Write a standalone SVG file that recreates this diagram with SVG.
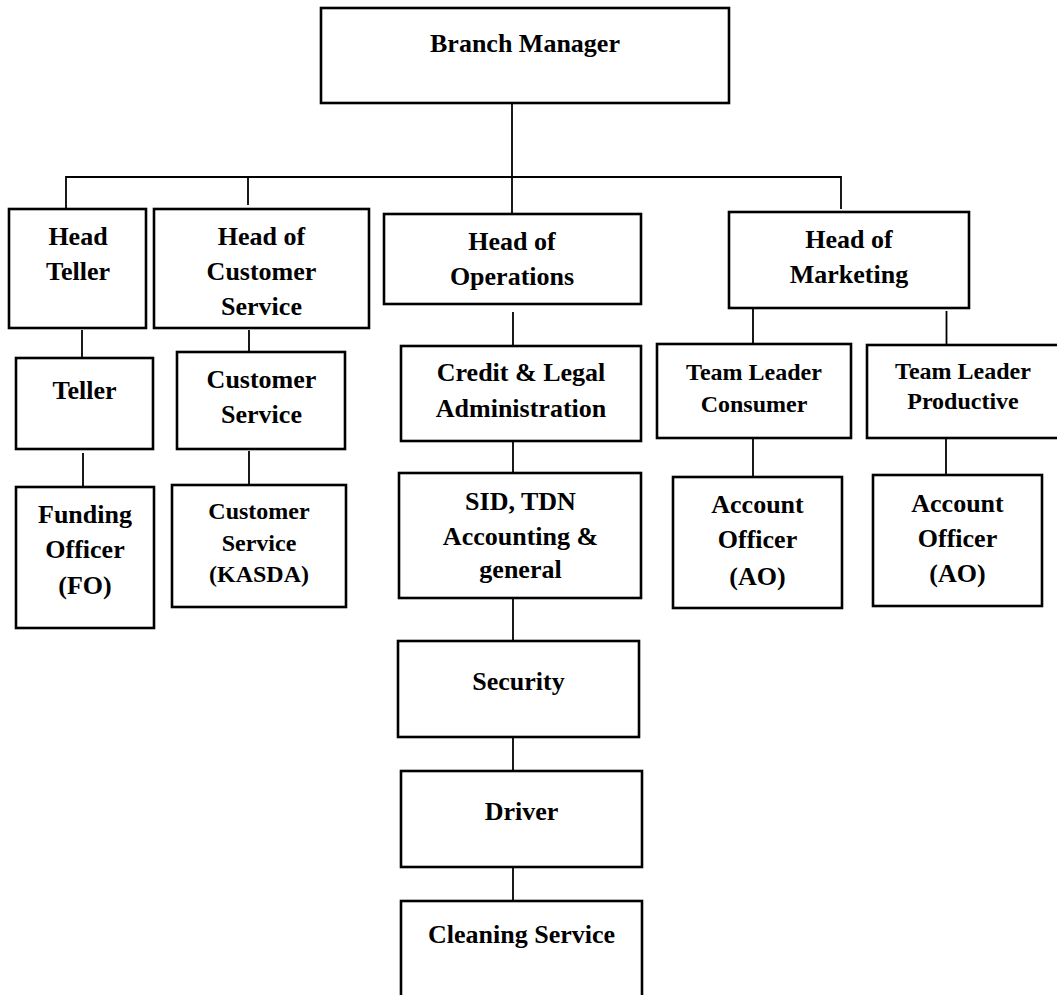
<svg xmlns="http://www.w3.org/2000/svg" width="1057" height="995" viewBox="0 0 1057 995">
<style>
.box{fill:#fff;stroke:#000;stroke-width:2.6}
.t{font-family:"Liberation Serif","Times New Roman",serif;font-weight:bold;font-size:26px;fill:#000;text-anchor:middle}
.s{font-size:24px}
.c{stroke:#000;stroke-width:1.8;fill:none}
</style>
<rect width="1057" height="995" fill="#fff"/>
<g id="connectors">
<line class="c" x1="512" y1="103" x2="512" y2="214"/>
<line class="c" x1="66" y1="177" x2="841" y2="177"/>
<line class="c" x1="66" y1="176" x2="66" y2="210"/>
<line class="c" x1="248" y1="177" x2="248" y2="205"/>
<line class="c" x1="841" y1="176" x2="841" y2="209"/>
<line class="c" x1="82" y1="330" x2="82" y2="358"/>
<line class="c" x1="83" y1="453" x2="83" y2="486"/>
<line class="c" x1="249" y1="330" x2="249" y2="352"/>
<line class="c" x1="249" y1="451" x2="249" y2="484"/>
<line class="c" x1="513" y1="312" x2="513" y2="346"/>
<line class="c" x1="513" y1="441" x2="513" y2="473"/>
<line class="c" x1="513" y1="598" x2="513" y2="641"/>
<line class="c" x1="513" y1="737" x2="513" y2="771"/>
<line class="c" x1="513" y1="867" x2="513" y2="901"/>
<line class="c" x1="753" y1="305" x2="753" y2="344"/>
<line class="c" x1="946.5" y1="311" x2="946.5" y2="345"/>
<line class="c" x1="753" y1="438" x2="753" y2="476"/>
<line class="c" x1="946" y1="438" x2="946" y2="476"/>
</g>
<g id="branch-manager">
<rect class="box" x="321" y="8" width="408" height="95"/>
<text class="t" x="525" y="52">Branch Manager</text>
</g>
<g id="head-teller">
<rect class="box" x="9" y="209" width="137" height="119"/>
<text class="t" x="78" y="245">Head</text>
<text class="t" x="78" y="280">Teller</text>
</g>
<g id="head-customer-service">
<rect class="box" x="154" y="209" width="215" height="119"/>
<text class="t" x="261.5" y="245">Head of</text>
<text class="t" x="261.5" y="280">Customer</text>
<text class="t" x="261.5" y="315">Service</text>
</g>
<g id="head-operations">
<rect class="box" x="384" y="214" width="257" height="90"/>
<text class="t" x="512" y="250">Head of</text>
<text class="t" x="512" y="285">Operations</text>
</g>
<g id="head-marketing">
<rect class="box" x="729" y="212" width="240" height="96"/>
<text class="t" x="849" y="248">Head of</text>
<text class="t" x="849" y="283">Marketing</text>
</g>
<g id="teller">
<rect class="box" x="16" y="358" width="137" height="91"/>
<text class="t" x="84.5" y="399">Teller</text>
</g>
<g id="customer-service">
<rect class="box" x="177" y="352" width="168" height="97"/>
<text class="t" x="261.5" y="388">Customer</text>
<text class="t" x="261.5" y="423">Service</text>
</g>
<g id="funding-officer">
<rect class="box" x="16" y="487" width="138" height="141"/>
<text class="t" x="85" y="523">Funding</text>
<text class="t" x="85" y="558">Officer</text>
<text class="t" x="85" y="594">(FO)</text>
</g>
<g id="customer-service-kasda">
<rect class="box" x="172" y="485" width="174" height="122"/>
<text class="t s" x="259" y="519">Customer</text>
<text class="t s" x="259" y="551">Service</text>
<text class="t s" x="259" y="582">(KASDA)</text>
</g>
<g id="credit-legal">
<rect class="box" x="401" y="346" width="240" height="95"/>
<text class="t" x="521" y="381">Credit &amp; Legal</text>
<text class="t" x="521" y="417">Administration</text>
</g>
<g id="sid-tdn">
<rect class="box" x="399" y="473" width="242" height="125"/>
<text class="t" x="520.5" y="510">SID, TDN</text>
<text class="t" x="520.5" y="545">Accounting &amp;</text>
<text class="t" x="520.5" y="578">general</text>
</g>
<g id="security">
<rect class="box" x="398" y="641" width="241" height="96"/>
<text class="t" x="518.5" y="690">Security</text>
</g>
<g id="driver">
<rect class="box" x="401" y="771" width="241" height="96"/>
<text class="t" x="521.5" y="820">Driver</text>
</g>
<g id="cleaning-service">
<rect class="box" x="401" y="901" width="241" height="100"/>
<text class="t" x="521.5" y="943">Cleaning Service</text>
</g>
<g id="team-leader-consumer">
<rect class="box" x="657" y="344" width="194" height="94"/>
<text class="t s" x="754" y="380">Team Leader</text>
<text class="t s" x="754" y="412">Consumer</text>
</g>
<g id="team-leader-productive">
<rect class="box" x="867" y="345" width="192" height="93"/>
<text class="t s" x="963" y="379">Team Leader</text>
<text class="t s" x="963" y="409">Productive</text>
</g>
<g id="account-officer-1">
<rect class="box" x="673" y="477" width="169" height="131"/>
<text class="t" x="757.5" y="513">Account</text>
<text class="t" x="757.5" y="548">Officer</text>
<text class="t" x="757.5" y="585">(AO)</text>
</g>
<g id="account-officer-2">
<rect class="box" x="873" y="475" width="169" height="131"/>
<text class="t" x="957.5" y="512">Account</text>
<text class="t" x="957.5" y="547">Officer</text>
<text class="t" x="957.5" y="582">(AO)</text>
</g>
</svg>
